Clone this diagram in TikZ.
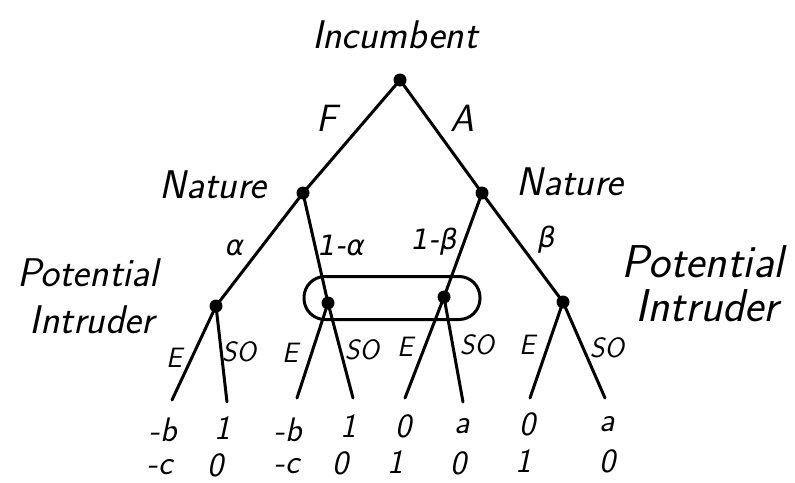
\documentclass[tikz,border=0pt]{standalone}
\usepackage{fontspec}
\newfontfamily\grk{DejaVu Sans}
\usetikzlibrary{positioning}
\begin{document}
\begin{tikzpicture}[x=1pt,y=-1pt,
  dot/.style={circle,fill=black,inner sep=0pt,minimum size=13pt},
  edge/.style={line width=3pt,line cap=round},
  player/.style={font=\fontsize{40}{42}\selectfont\sffamily\itshape,inner sep=0pt},
  bigpl/.style={font=\fontsize{46}{48}\selectfont\sffamily\itshape,inner sep=0pt},
  act/.style={font=\fontsize{38}{40}\selectfont\sffamily\itshape,inner sep=0pt},
  prob/.style={font=\fontsize{28}{30}\selectfont\grk\itshape,inner sep=0pt},
  small/.style={font=\fontsize{28}{30}\selectfont\sffamily\itshape,inner sep=0pt},
  pay/.style={font=\fontsize{34}{36}\selectfont\sffamily\itshape,inner sep=0pt}]
\useasboundingbox (0,0) rectangle (795,482);
% decision nodes
\node[dot] (root) at (400,80) {};
\node[dot] (nL) at (303,193) {};
\node[dot] (nR) at (482,193) {};
\node[dot] (p1) at (216,306) {};
\node[dot] (p2) at (328,303) {};
\node[dot] (p3) at (444,297) {};
\node[dot] (p4) at (563,302) {};
% leaves
\coordinate (l1) at (172,400);
\coordinate (l2) at (227,402);
\coordinate (l3) at (297,398);
\coordinate (l4) at (353,398);
\coordinate (l5) at (405,398);
\coordinate (l6) at (463,402);
\coordinate (l7) at (530,398);
\coordinate (l8) at (605,398);
% edges
\draw[edge] (root.center) -- (nL.center);
\draw[edge] (root.center) -- (nR.center);
\draw[edge] (nL.center) -- (p1.center);
\draw[edge] (nL.center) -- (p2.center);
\draw[edge] (nR.center) -- (p3.center);
\draw[edge] (nR.center) -- (p4.center);
\draw[edge] (p1.center) -- (l1);
\draw[edge] (p1.center) -- (l2);
\draw[edge] (p2.center) -- (l3);
\draw[edge] (p2.center) -- (l4);
\draw[edge] (p3.center) -- (l5);
\draw[edge] (p3.center) -- (l6);
\draw[edge] (p4.center) -- (l7);
\draw[edge] (p4.center) -- (l8);
% information set
\node[draw,line width=3pt,rounded corners=21pt,minimum width=176pt,minimum height=43pt] (info) at (392,298) {};
% player labels
\node[player] (tInc) at (395,35) {Incumbent};
\node[player] (tNatL) at (213,185) {Nature};
\node[player] (tNatR) at (570,182) {Nature};
\node[player] (tPIL1) at (88,273) {Potential};
\node[player] (tPIL2) at (92,320) {Intruder};
\node[bigpl] (tPIR1) at (703,262) {Potential};
\node[bigpl] (tPIR2) at (707,306) {Intruder};
% action labels
\node[act] (aF) at (327,118) {F};
\node[act] (aA) at (462,118) {A};
\node[prob] (aAl) at (235,248) {α};
\node[prob] (aAl1) at (342,245) {1-α};
\node[prob] (aBe1) at (435,242) {1-β};
\node[prob] (aBe) at (547,240) {β};
\node[small] (e1) at (174,358) {E};
\node[small] (s1) at (239,352) {SO};
\node[small] (e2) at (290,353) {E};
\node[small] (s2) at (362,350) {SO};
\node[small] (e3) at (405,347) {E};
\node[small] (s3) at (477,345) {SO};
\node[small] (e4) at (527,345) {E};
\node[small] (s4) at (607,348) {SO};
% payoffs
\node[pay] (u1) at (163,430) {-b};
\node[pay] (u2) at (222,428) {1};
\node[pay] (u3) at (288,430) {-b};
\node[pay] (u4) at (348,426) {1};
\node[pay] (u5) at (403,426) {0};
\node[pay] (u6) at (462,426) {a};
\node[pay] (u7) at (527,424) {0};
\node[pay] (u8) at (607,424) {a};
\node[pay] (v1) at (160,467) {-c};
\node[pay] (v2) at (215,465) {0};
\node[pay] (v3) at (287,466) {-c};
\node[pay] (v4) at (340,463) {0};
\node[pay] (v5) at (395,462) {1};
\node[pay] (v6) at (458,463) {0};
\node[pay] (v7) at (523,461) {1};
\node[pay] (v8) at (607,461) {0};
\end{tikzpicture}
\end{document}
